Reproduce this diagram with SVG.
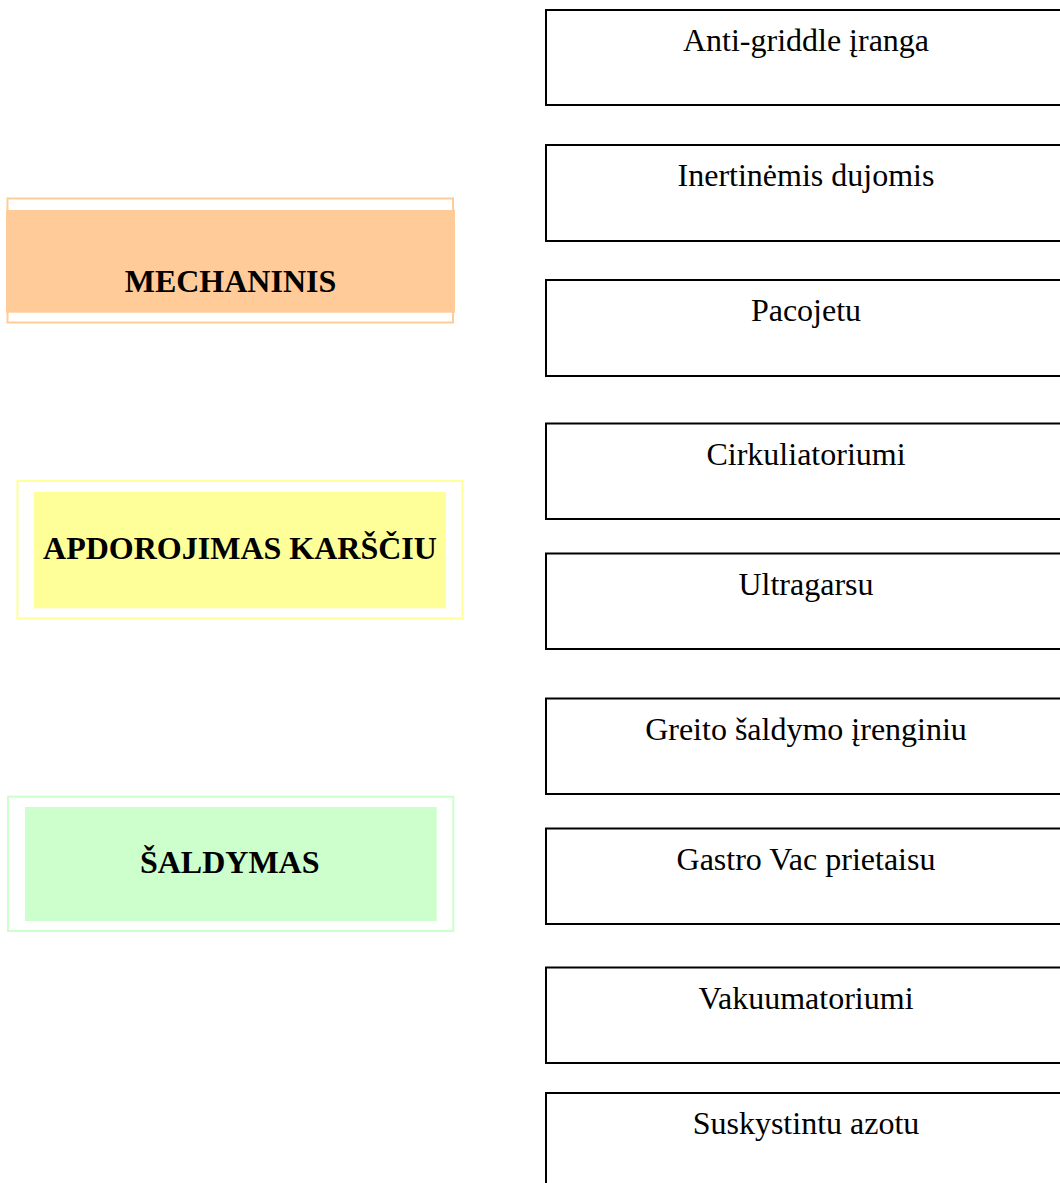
<svg xmlns="http://www.w3.org/2000/svg" width="1060" height="1183" viewBox="0 0 1060 1183">
  <style>
    .cat { font-family: "Liberation Serif", "Times New Roman", serif; font-size: 32px; font-weight: bold; fill: #000; text-anchor: middle; }
    .item { font-family: "Liberation Serif", "Times New Roman", serif; font-size: 32px; fill: #000; text-anchor: middle; }
    .box { fill: #fff; stroke: #000; stroke-width: 2; }
  </style>
  <rect x="0" y="0" width="1060" height="1183" fill="#fff"/>
  <g id="connectors"/>

  <g id="mechaninis">
    <rect x="7.5" y="198.5" width="445.5" height="124" fill="none" stroke="#FFCC99" stroke-width="2"/>
    <rect x="6" y="210" width="449" height="102.7" fill="#FFCC99"/>
    <text class="cat" x="230.5" y="291.7">MECHANINIS</text>
  </g>

  <g id="apdorojimas">
    <rect x="17.5" y="481" width="445" height="137.5" fill="none" stroke="#FFFF99" stroke-width="2"/>
    <rect x="34" y="492" width="412" height="116.3" fill="#FFFF99"/>
    <text class="cat" x="240" y="559.3">APDOROJIMAS KARŠČIU</text>
  </g>

  <g id="saldymas">
    <rect x="8" y="796.7" width="445.3" height="134.3" fill="none" stroke="#CCFFCC" stroke-width="2"/>
    <rect x="25" y="807" width="411.7" height="114" fill="#CCFFCC"/>
    <text class="cat" x="229.7" y="873.3">ŠALDYMAS</text>
  </g>

  <g id="anti-griddle">
    <rect class="box" x="546" y="10" width="600" height="95"/>
    <text class="item" x="806" y="51">Anti-griddle įranga</text>
  </g>
  <g id="inertinemis">
    <rect class="box" x="546" y="145" width="600" height="96"/>
    <text class="item" x="806" y="186">Inertinėmis dujomis</text>
  </g>
  <g id="pacojetu">
    <rect class="box" x="546" y="280" width="600" height="96"/>
    <text class="item" x="806" y="321">Pacojetu</text>
  </g>
  <g id="cirkuliatoriumi">
    <rect class="box" x="546" y="423.5" width="600" height="95.5"/>
    <text class="item" x="806" y="464.5">Cirkuliatoriumi</text>
  </g>
  <g id="ultragarsu">
    <rect class="box" x="546" y="553.5" width="600" height="95.5"/>
    <text class="item" x="806" y="594.5">Ultragarsu</text>
  </g>
  <g id="greito-saldymo">
    <rect class="box" x="546" y="698.5" width="600" height="95.5"/>
    <text class="item" x="806" y="739.5">Greito šaldymo įrenginiu</text>
  </g>
  <g id="gastro-vac">
    <rect class="box" x="546" y="828.5" width="600" height="95.5"/>
    <text class="item" x="806" y="869.5">Gastro Vac prietaisu</text>
  </g>
  <g id="vakuumatoriumi">
    <rect class="box" x="546" y="967.5" width="600" height="95.5"/>
    <text class="item" x="806" y="1008.5">Vakuumatoriumi</text>
  </g>
  <g id="suskystintu-azotu">
    <rect class="box" x="546" y="1093" width="600" height="200"/>
    <text class="item" x="806" y="1134">Suskystintu azotu</text>
  </g>
</svg>
